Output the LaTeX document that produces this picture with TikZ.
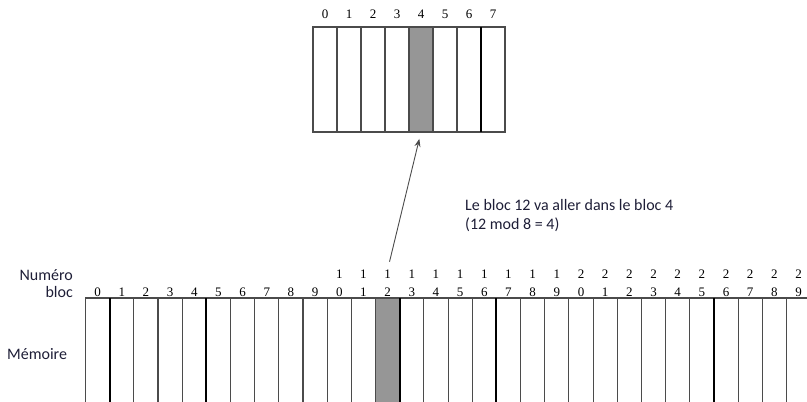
\documentclass[tikz,border=0pt]{standalone}
\usepackage{fontspec}
\setmainfont{Liberation Serif}
\newfontfamily\labfont{Carlito}
\usetikzlibrary{arrows.meta}
\definecolor{cellgray}{RGB}{150,150,150}
\definecolor{linegray}{RGB}{75,75,75}
\definecolor{txtnavy}{RGB}{30,30,55}
\tikzset{
  cachecell/.style={draw=linegray, line width=1.1pt, minimum width=24pt, minimum height=105pt, inner sep=0pt, outer sep=0pt, anchor=north west},
  memcell/.style={draw=linegray, line width=1.1pt, minimum width=24.17pt, minimum height=140pt, inner sep=0pt, outer sep=0pt, anchor=north west},
  digit/.style={font=\fontsize{13}{18}\selectfont, inner sep=0pt, text depth=0pt, anchor=south, align=center},
  sidelab/.style={font=\labfont\fontsize{16}{19}\selectfont, text=txtnavy, inner sep=0pt},
  thickline/.style={line width=1.9pt, draw=black},
  maparrow/.style={draw=linegray, line width=0.9pt, -{Stealth[length=8pt,width=6pt]}},
}
\begin{document}
\begin{tikzpicture}[x=1pt,y=-1pt]
\useasboundingbox (0,0) rectangle (807,402);
\clip (0,0) rectangle (807,402);
% cache
\foreach \i in {0,...,7} {
  \ifnum\i=4 \def\cf{cellgray}\else\def\cf{white}\fi
  \node[cachecell, fill=\cf] (c\i) at ({313+24*\i},27) {};
  \node[digit] (cl\i) at ({325+24*\i},19) {\i};
}
\draw[thickline] (c7.north west) -- (c7.south west);
% memory
\foreach \i in {0,...,29} {
  \ifnum\i=12 \def\cf{cellgray}\else\def\cf{white}\fi
  \node[memcell, fill=\cf] (m\i) at ({85.5+24.17*\i},298) {};
}
\foreach \i in {0,...,9} {
  \node[digit] (l\i) at ({97.6+24.17*\i},296.5) {\i};
}
\foreach \i in {10,...,29} {
  \pgfmathtruncatemacro{\tens}{int(\i/10)}
  \pgfmathtruncatemacro{\units}{mod(\i,10)}
  \node[digit] (l\i) at ({97.6+24.17*\i},296.5) {\tens\\\units};
}
\foreach \k in {1,5,13,17,26} {
  \draw[thickline] (m\k.north west) -- (m\k.south west);
}
% side labels
\node[sidelab, anchor=base east] (numero) at (73,280) {Numéro};
\node[sidelab, anchor=base east] (bloc) at (73,297) {bloc};
\node[sidelab, anchor=base west] (memoire) at (7,359) {Mémoire};
% note
\node[sidelab, anchor=base west] (note1) at (465,210.5) {Le bloc 12 va aller dans le bloc 4};
\node[sidelab, anchor=base west] (note2) at (465,229) {(12 mod 8 = 4)};
% arrow
\draw[maparrow, shorten <=8pt, shorten >=7pt] (l12.north) -- (c4.south);
\end{tikzpicture}
\end{document}
